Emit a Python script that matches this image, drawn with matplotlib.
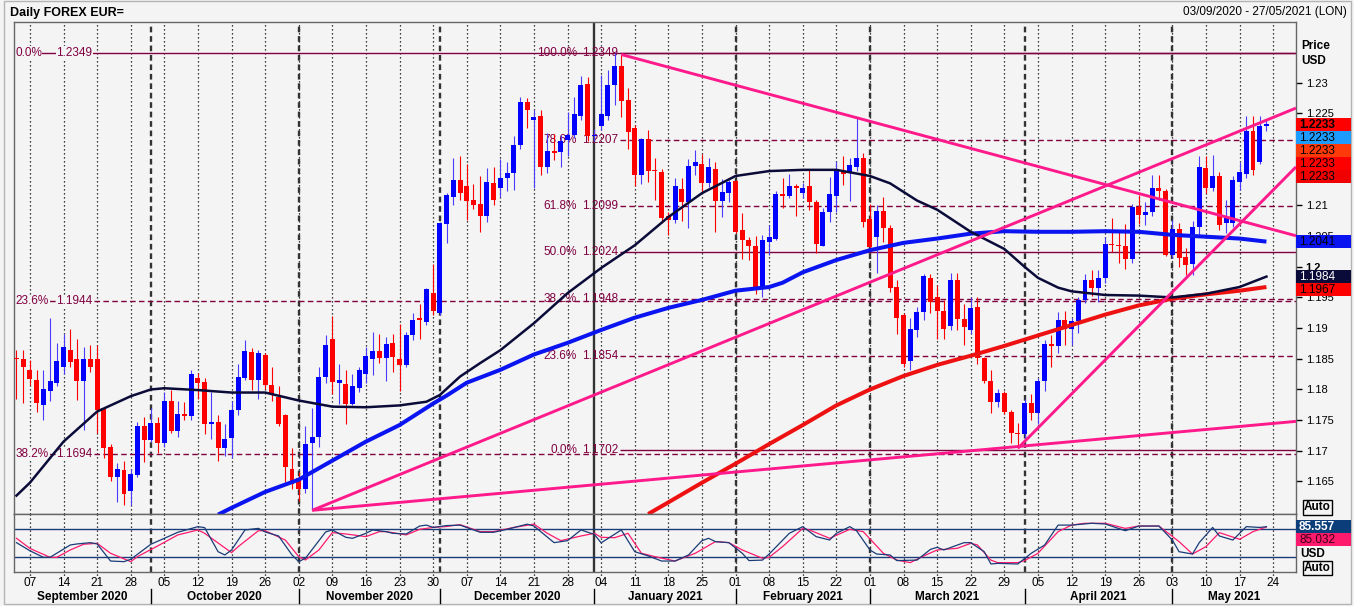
import numpy as np
import pandas as pd
import matplotlib
matplotlib.use("Agg")
import matplotlib.pyplot as plt
from matplotlib.patches import Rectangle
from matplotlib.lines import Line2D
from matplotlib.transforms import blended_transform_factory

plt.rcParams['font.family'] = ['Liberation Sans', 'DejaVu Sans']

# ---------------- data ----------------
dates = pd.bdate_range('2020-09-03', '2021-05-27')

opens = [
1.1852,1.1849,1.1831,1.1815,1.1775,1.1797,1.1811,1.1837,1.1864,1.1849,
1.1814,1.1849,1.1849,1.1769,1.1707,1.1657,1.1669,1.1634,1.1661,1.1741,
1.1718,1.1746,1.1713,1.1781,1.1732,1.1760,1.1757,1.1819,1.1812,1.1744,
1.1747,1.1705,1.1721,1.1766,1.1819,1.1861,1.1816,1.1856,1.1808,1.1788,
1.1758,1.1671,1.1656,1.1638,1.1713,1.1722,1.1821,1.1882,1.1811,1.1809,
1.1776,1.1803,1.1826,1.1850,1.1862,1.1851,1.1875,1.1850,1.1840,1.1888,
1.1917,1.1910,1.1958,1.1924,1.2069,1.2113,1.2142,1.2131,1.2109,1.2102,
1.2082,1.2136,1.2129,1.2144,1.2153,1.2199,1.2268,1.2240,1.2245,1.2162,
1.2189,1.2187,1.2207,1.2215,1.2246,1.2298,1.2213,1.2229,1.2246,1.2296,
1.2328,1.2272,1.2226,1.2150,1.2208,1.2158,1.2154,1.2083,1.2076,1.2127,
1.2105,1.2164,1.2167,1.2137,1.2160,1.2107,1.2121,1.2140,1.2060,1.2044,
1.2034,1.1963,1.2041,1.2046,1.2119,1.2116,1.2132,1.2120,1.2131,1.2105,
1.2034,1.2089,1.2116,1.2154,1.2155,1.2162,1.2177,1.2078,1.2048,1.2091,
1.2063,1.1967,1.1921,1.1847,1.1897,1.1927,1.1982,1.1951,1.1928,1.1903,
1.1978,1.1915,1.1897,1.1935,1.1851,1.1814,1.1780,1.1795,1.1764,1.1729,
1.1728,1.1778,1.1762,1.1813,1.1874,1.1871,1.1914,1.1899,1.1911,1.1946,
1.1978,1.1966,1.1982,1.2037,1.2035,1.2034,1.2012,1.2097,1.2084,1.2089,
1.2128,1.2124,1.2020,1.2061,1.2016,1.2005,1.2065,1.2161,1.2128,1.2148,
1.2072,1.2072,1.2139,1.2151,1.2221,1.2170,1.2229]

highs = [
1.1864,1.1864,1.1848,1.1831,1.1831,1.1916,1.1876,1.1891,1.1899,1.1882,
1.1869,1.1872,1.1872,1.1772,1.1711,1.1680,1.1684,1.1671,1.1747,1.1755,
1.1769,1.1755,1.1796,1.1799,1.1782,1.1779,1.1831,1.1827,1.1818,1.1796,
1.1758,1.1744,1.1782,1.1842,1.1880,1.1867,1.1864,1.1859,1.1837,1.1805,
1.1760,1.1704,1.1665,1.1741,1.1769,1.1837,1.1889,1.1919,1.1842,1.1832,
1.1826,1.1837,1.1869,1.1894,1.1890,1.1886,1.1890,1.1906,1.1894,1.1924,
1.1940,1.1965,1.2004,1.2073,1.2120,1.2177,1.2180,1.2167,1.2135,1.2148,
1.2161,1.2162,1.2176,1.2171,1.2213,1.2277,1.2275,1.2256,1.2256,1.2218,
1.2217,1.2215,1.2253,1.2276,1.2311,1.2310,1.2225,1.2313,1.2321,1.2349,
1.2346,1.2291,1.2231,1.2210,1.2223,1.2178,1.2160,1.2090,1.2144,1.2144,
1.2175,1.2191,1.2184,1.2177,1.2171,1.2143,1.2142,1.2142,1.2087,1.2048,
1.2050,1.2051,1.2068,1.2123,1.2145,1.2151,1.2135,1.2136,1.2157,1.2109,
1.2095,1.2147,1.2172,1.2180,1.2178,1.2243,1.2185,1.2102,1.2101,1.2114,
1.2068,1.1978,1.1925,1.1916,1.1935,1.1989,1.1989,1.1970,1.1946,1.1990,
1.1990,1.1940,1.1951,1.1950,1.1853,1.1831,1.1800,1.1797,1.1767,1.1745,
1.1785,1.1792,1.1818,1.1880,1.1888,1.1927,1.1928,1.1916,1.1950,1.1988,
1.1994,1.1994,1.2049,1.2080,1.2056,1.2069,1.2102,1.2117,1.2105,1.2150,
1.2150,1.2127,1.2077,1.2071,1.2031,1.2075,1.2180,1.2180,1.2182,1.2154,
1.2109,1.2148,1.2170,1.2245,1.2246,1.2245,1.2240]

lows = [
1.1785,1.1778,1.1808,1.1763,1.1751,1.1782,1.1806,1.1826,1.1837,1.1783,
1.1734,1.1829,1.1729,1.1689,1.1650,1.1617,1.1611,1.1611,1.1658,1.1682,
1.1714,1.1696,1.1706,1.1729,1.1722,1.1750,1.1750,1.1785,1.1728,1.1720,
1.1684,1.1692,1.1689,1.1758,1.1815,1.1799,1.1785,1.1801,1.1782,1.1740,
1.1649,1.1638,1.1619,1.1631,1.1603,1.1707,1.1810,1.1793,1.1777,1.1744,
1.1774,1.1796,1.1811,1.1823,1.1843,1.1814,1.1829,1.1797,1.1836,1.1880,
1.1883,1.1905,1.1921,1.1921,1.2038,1.2101,1.2109,1.2077,1.2094,1.2057,
1.2073,1.2101,1.2114,1.2124,1.2125,1.2192,1.2226,1.2129,1.2150,1.2153,
1.2174,1.2162,1.2180,1.2210,1.2240,1.2205,1.2205,1.2223,1.2240,1.2263,
1.2244,1.2192,1.2131,1.2135,1.2139,1.2109,1.2072,1.2052,1.2072,1.2075,
1.2064,1.2150,1.2121,1.2130,1.2056,1.2081,1.2105,1.2055,1.2012,1.2011,
1.1956,1.1950,1.2019,1.2044,1.2095,1.2112,1.2082,1.2112,1.2093,1.2022,
1.2034,1.2073,1.2090,1.2133,1.2108,1.2156,1.2065,1.2028,1.1990,1.2041,
1.1959,1.1891,1.1836,1.1832,1.1885,1.1913,1.1925,1.1883,1.1883,1.1897,
1.1897,1.1872,1.1890,1.1841,1.1810,1.1762,1.1772,1.1760,1.1712,1.1704,
1.1716,1.1750,1.1743,1.1797,1.1837,1.1860,1.1873,1.1873,1.1892,1.1941,
1.1953,1.1942,1.1974,1.2024,1.2006,1.1996,1.2006,1.2070,1.2068,1.2082,
1.2109,1.2017,1.2014,1.2000,1.1986,1.1986,1.2049,1.2120,1.2123,1.2060,
1.2055,1.2065,1.2125,1.2145,1.2150,1.2168,1.2222]

closes = [
1.1850,1.1837,1.1817,1.1778,1.1801,1.1814,1.1846,1.1869,1.1845,1.1814,
1.1849,1.1837,1.1767,1.1705,1.1657,1.1671,1.1629,1.1663,1.1741,1.1718,
1.1746,1.1713,1.1781,1.1733,1.1760,1.1757,1.1825,1.1811,1.1744,1.1747,
1.1705,1.1719,1.1766,1.1821,1.1862,1.1816,1.1859,1.1807,1.1793,1.1744,
1.1673,1.1646,1.1638,1.1711,1.1722,1.1821,1.1872,1.1812,1.1815,1.1776,
1.1805,1.1832,1.1854,1.1862,1.1851,1.1874,1.1853,1.1840,1.1888,1.1914,
1.1913,1.1963,1.1928,1.2071,1.2117,1.2142,1.2121,1.2108,1.2101,1.2082,
1.2138,1.2109,1.2144,1.2153,1.2198,1.2268,1.2256,1.2244,1.2162,1.2188,
1.2185,1.2205,1.2215,1.2249,1.2297,1.2213,1.2215,1.2249,1.2297,1.2328,
1.2271,1.2219,1.2150,1.2208,1.2156,1.2156,1.2079,1.2076,1.2131,1.2105,
1.2164,1.2171,1.2137,1.2162,1.2107,1.2122,1.2139,1.2056,1.2043,1.2034,
1.1963,1.2044,1.2048,1.2119,1.2116,1.2131,1.2129,1.2129,1.2105,1.2037,
1.2089,1.2118,1.2156,1.2151,1.2166,1.2178,1.2073,1.2032,1.2091,1.2063,
1.1966,1.1917,1.1842,1.1898,1.1926,1.1985,1.1943,1.1928,1.1899,1.1978,
1.1915,1.1902,1.1932,1.1851,1.1814,1.1780,1.1795,1.1764,1.1729,1.1728,
1.1778,1.1762,1.1813,1.1874,1.1871,1.1914,1.1899,1.1911,1.1946,1.1978,
1.1966,1.1982,1.2037,1.2035,1.2034,1.2012,1.2097,1.2084,1.2089,1.2128,
1.2124,1.2020,1.2061,1.2014,1.2003,1.2065,1.2163,1.2128,1.2148,1.2068,
1.2079,1.2142,1.2154,1.2221,1.2158,1.2229,1.2233]

ma50_days = [0,2,7,12,17,20,22,27,32,37,42,47,52,57,61,63,66,69,72,77,82,87,92,97,102,
             107,112,117,122,127,130,134,137,142,147,150,152,155,157,162,167,172,177,182,186]
ma50_vals = [1.1627,1.1648,1.1715,1.1764,1.1789,1.1800,1.1802,1.1799,1.1795,1.1795,1.1782,
             1.1772,1.1771,1.1774,1.1780,1.1791,1.1821,1.1843,1.1864,1.1908,1.1957,1.1998,
             1.2035,1.2081,1.2120,1.2148,1.2156,1.2158,1.2158,1.2148,1.2136,1.2108,1.2093,1.2057,
             1.2029,1.2000,1.1982,1.1966,1.1960,1.1954,1.1953,1.1950,1.1956,1.1967,1.1984]
ma100_days = [30,32,37,42,47,52,57,62,64,67,72,77,82,87,92,97,102,107,112,114,117,122,127,
              132,137,142,147,152,157,162,167,172,177,182,186]
ma100_vals = [1.1596,1.1607,1.1633,1.1653,1.1684,1.1715,1.1742,1.1777,1.1790,1.1811,1.1832,
              1.1857,1.1876,1.1897,1.1917,1.1933,1.1946,1.1961,1.1967,1.1974,1.1991,1.2011,
              1.2027,1.2039,1.2046,1.2054,1.2058,1.2057,1.2057,1.2058,1.2057,1.2052,1.2049,
              1.2046,1.2041]
ma200_days = [94,97,102,107,112,117,122,127,132,137,142,147,152,157,162,167,172,177,182,186]
ma200_vals = [1.1597,1.1616,1.1648,1.1679,1.1711,1.1742,1.1774,1.1800,1.1822,1.1840,1.1855,
              1.1871,1.1888,1.1905,1.1922,1.1937,1.1948,1.1955,1.1961,1.1967]

# stochastic oscillator
stoch_k_days = [0,2,4,5,8,9,11,12,14,16,17,20,22,24,27,28,30,31,32,34,36,37,39,41,42,43,46,47,
                49,50,52,53,55,56,58,60,61,62,64,66,69,71,73,76,77,80,82,84,86,87,90,92,94,96,
                98,100,102,103,104,106,108,109,111,112,115,117,119,121,122,124,125,127,128,130,
                131,134,136,137,138,141,142,144,145,146,149,151,153,155,157,160,162,165,167,170,
                172,173,175,176,178,179,181,183,185,186]
stoch_k_vals = [51.4,34,20,20,46.4,48.6,51.4,48.6,12,10.7,15.7,48,60.7,73.6,85.7,83.6,32,25,35.7,
                78.6,82,74.3,65.7,25,10.7,18,74.3,78.6,62.9,60.7,71.4,78.6,75,71.4,70,87,89,84,
                88,89,73.6,73.6,80,91,87,51.4,55.7,78.6,69,51,78.6,32,23,12,12,25,55.7,60.7,53.6,
                51.4,28.6,13,14,27,71.4,85.7,64.3,57,71.4,85.7,77,35.7,27,25,13,14,37,41.4,35.7,
                51.4,51.4,32,5.7,7,5.7,28.6,46.4,89,89,92.9,91.4,77,87,87,57,32,27,51.4,84,65.7,
                57,85.7,84,85.557]
stoch_d_days = [0,2,5,6,8,10,12,14,17,18,21,24,27,28,32,33,36,37,40,42,43,45,47,49,52,54,55,58,
                60,62,64,66,69,71,74,77,79,81,84,86,87,89,91,93,95,98,101,104,106,108,111,112,
                114,117,118,121,124,126,129,131,133,135,137,140,142,143,145,146,149,150,152,155,
                157,159,162,165,167,170,173,175,177,179,182,184,186]
stoch_d_vals = [60.7,39,20,20,35.7,48,50,28.6,10.7,21.4,44.3,67.9,78.6,71.4,30,42.9,77,77,57,21.4,
                14.3,35.7,72.9,70,64.3,75,75,68,80,84,86,90,75,75,84,91,71.4,55.7,65.7,71.4,62.9,
                62,71.4,28.6,21.4,12,28.6,53.6,51.4,35.7,18,20,42.9,82,78.6,60.7,80,75,28.6,14,
                8.6,22.9,35.7,39.3,50,46.4,14,8.6,8.6,12.9,28.6,75,89,92.9,92.9,82,87,87,53.6,27,
                42.9,72.9,58.6,75,85.032]

# Fibonacci retracements
fib_left_pct = ['0.0%', '23.6%', '38.2%']
fib_left_vals = [1.2349, 1.1944, 1.1694]
fib_right_pct = ['100.0%', '78.6%', '61.8%', '50.0%', '38.2%', '23.6%', '0.0%']
fib_right_vals = [1.2349, 1.2207, 1.2099, 1.2024, 1.1948, 1.1854, 1.1702]

# trend lines: (day0, price0, day1, price1), extended to the right edge
trend_lines = [(44, 1.1603, 149, 1.1707),
               (44, 1.1603, 186, 1.2239),
               (90, 1.2346, 125, 1.2243),
               (149, 1.1704, 186, 1.2114)]

# ---------------- layout ----------------
W, H, DPI = 1354, 606, 100
BG = '#f4f4f4'
L, R = 14, 1296
TOP, MID, BOT = 22, 514, 572
XMIN, XMAX = -0.37, 190.4
YMIN, YMAX = 1.1597, 1.2399
SMIN, SMAX = -11.5, 112.8

def fx(px):
    return px / W

def fy(py):
    return 1 - py / H

def day_px(d):
    return L + (d - XMIN) / (XMAX - XMIN) * (R - L)

def price_py(p):
    return TOP + (YMAX - p) / (YMAX - YMIN) * (MID - TOP)

def stoch_py(v):
    return MID + (SMAX - v) / (SMAX - SMIN) * (BOT - MID)

fig = plt.figure(figsize=(W / DPI, H / DPI), dpi=DPI)
fig.patch.set_facecolor(BG)

ax = fig.add_axes([fx(L), fy(MID), (R - L) / W, (MID - TOP) / H])
ax2 = fig.add_axes([fx(L), fy(BOT), (R - L) / W, (BOT - MID) / H])
for a in (ax, ax2):
    a.set_facecolor(BG)
    a.set_xlim(XMIN, XMAX)
    a.set_xticks([])
    for s in a.spines.values():
        s.set_color('#666666')
        s.set_linewidth(1.0)
ax.set_ylim(YMIN, YMAX)
ax2.set_ylim(SMIN, SMAX)
ax2.set_yticks([])

# right price axis (labels under the value boxes are hidden there anyway)
ax.yaxis.tick_right()
yt = np.round(np.arange(1.165, 1.2301, 0.005), 3)
hidden = {1.215, 1.22}
ax.set_yticks(yt)
ax.set_yticklabels(['' if v in hidden else ('%.3f' % v).rstrip('0').rstrip('.') for v in yt])
ax.tick_params(axis='y', direction='out', length=4, width=1, labelsize=8, pad=3, colors='black')
for t in ax.get_yticklabels():
    if t.get_text() == '1.2':
        t.set_fontweight('bold')

# vertical grid: weekly dotted, monthly dashed, year solid
idx_all = np.arange(len(dates))
mondays = [i for i in idx_all if dates[i].weekday() == 0]
month_starts = [i for i in idx_all[1:] if dates[i].month != dates[i - 1].month]
bt2 = blended_transform_factory(ax2.transData, fig.transFigure)
for i in mondays:
    ax.axvline(i, color='black', lw=0.9, ls=(0, (1, 2.2)), zorder=1)
    ax2.plot([i, i], [fy(MID), fy(578)], transform=bt2, color='black', lw=0.9,
             ls=(0, (1, 2.2)), zorder=1, clip_on=False)
for i in month_starts:
    if dates[i].month == 1:
        ax.axvline(i, color='#333333', lw=1.7, zorder=1.2)
        ax2.axvline(i, color='#333333', lw=1.7, zorder=1.2)
    else:
        ax.axvline(i, color='#333333', lw=1.7, ls=(0, (2.4, 1.6)), zorder=1.2)
        ax2.axvline(i, color='#333333', lw=1.7, ls=(0, (2.4, 1.6)), zorder=1.2)

# Fibonacci levels
FIB = '#800040'
left_styles = ['-', (0, (4, 2.4)), (0, (4, 2.4))]
bta = blended_transform_factory(ax.transAxes, ax.transData)
for pct, v, st in zip(fib_left_pct, fib_left_vals, left_styles):
    ax.axhline(v, color=FIB, lw=1.0, ls=st, zorder=2)
    ax.text(0.001, v, pct, transform=bta, color=FIB, fontsize=8.5, va='center', ha='left',
            zorder=2.2, bbox=dict(facecolor=BG, edgecolor='none', pad=0.2))
    ax.text(0.033, v, '%.4f' % v, transform=bta, color=FIB, fontsize=8.5, va='center', ha='left',
            zorder=2.2, bbox=dict(facecolor=BG, edgecolor='none', pad=0.2))
right_styles = ['-', 'd', 'd', '-', 'd', 'd', '-']
FIB_START = 89.8
for pct, v, st in zip(fib_right_pct, fib_right_vals, right_styles):
    ls = '-' if st == '-' else (0, (4, 2.4))
    ax.hlines(v, FIB_START, XMAX, color=FIB, lw=1.0, ls=ls, zorder=2)
    ax.text(FIB_START - 0.3, v, '%.4f' % v, color=FIB, fontsize=8.5, va='center', ha='right', zorder=2.2)
    ax.text(FIB_START - 6.4, v, pct, color=FIB, fontsize=8.5, va='center', ha='right', zorder=2.2)

# candles
n = len(closes)
d = np.arange(n)
o = np.array(opens[:n]); h = np.array(highs[:n]); l = np.array(lows[:n]); c = np.array(closes[:n])
up = c >= o
body_lo = np.minimum(o, c)
body_hi = np.maximum(o, c)
h = np.maximum(h, body_hi)
l = np.minimum(l, body_lo)
body_h = np.maximum(body_hi - body_lo, 0.00016)
ax.vlines(d, l, h, colors=np.where(up, '#4a3cff', '#ff0000'), linewidth=0.8, zorder=3)
ax.bar(d, body_h, bottom=body_lo, width=0.74, color=np.where(up, '#0000ff', '#ff0000'),
       linewidth=0, zorder=3.5)

# moving averages
ax.plot(ma200_days, ma200_vals, color='#ee1111', lw=2.9, zorder=4, solid_capstyle='butt',
        solid_joinstyle='round')
ax.plot(ma100_days, ma100_vals, color='#0a14f0', lw=2.9, zorder=4.1, solid_capstyle='butt',
        solid_joinstyle='round')
ax.plot(ma50_days, ma50_vals, color='#0b0b3a', lw=1.8, zorder=4.2, solid_joinstyle='round')

# trend lines
for d0, p0, d1, p1 in trend_lines:
    s = (p1 - p0) / (d1 - d0)
    ax.plot([d0, XMAX], [p0, p0 + s * (XMAX - d0)], color='#ff1a8c', lw=2.1, zorder=5,
            solid_capstyle='butt')

# stochastic panel
for lev in (80, 20):
    ax2.axhline(lev, color='#1a3c78', lw=1.0, zorder=2)
ax2.plot(stoch_d_days, stoch_d_vals, color='#ff1a6e', lw=0.9, zorder=3)
ax2.plot(stoch_k_days, stoch_k_vals, color='#1a3c78', lw=0.9, zorder=3.1)

# ---------------- right-side value boxes ----------------
def box(ycen, txt, fc, tc, weight='normal', hgt=13):
    fig.add_artist(Rectangle((fx(R), fy(ycen + hgt / 2)), (1351 - R) / W, hgt / H,
                             transform=fig.transFigure, facecolor=fc, edgecolor='none', zorder=10))
    fig.text(fx(1299), fy(ycen), txt, color=tc, fontsize=8.5, fontweight=weight,
             va='center', ha='left', zorder=11)

last = '%.4f' % closes[-1]
y0 = price_py(closes[-1]) + 1
last_colors = [('#ff0000', 'black', 'bold'), ('#1e9bff', 'black', 'normal'),
               ('#ff3a0a', 'black', 'normal'), ('#ff0000', 'black', 'normal'),
               ('#f00000', 'black', 'normal')]
for k, (fc, tc, wt) in enumerate(last_colors):
    box(y0 + 13 * k, last, fc, tc, wt)

ma_boxes = [(ma100_vals[-1], '#0a14f0', 'black'), (ma50_vals[-1], '#0b0b3a', 'white'),
            (ma200_vals[-1], '#ff0000', 'black')]
prev = -100
for v, fc, tc in ma_boxes:
    yc = max(price_py(v), prev + 13)
    box(yc, '%.4f' % v, fc, tc)
    prev = yc

yk = stoch_py(stoch_k_vals[-1])
box(yk, '%.3f' % stoch_k_vals[-1], '#0a3d7a', 'white', 'bold')
box(max(stoch_py(stoch_d_vals[-1]), yk + 13), '%.3f' % stoch_d_vals[-1], '#ff1a6e', '#3a0010')

fig.text(fx(1301), fy(46), 'Price', fontsize=8.5, fontweight='bold', va='center', ha='left')
fig.text(fx(1301), fy(61), 'USD', fontsize=8.5, fontweight='bold', va='center', ha='left')
fig.text(fx(1300), fy(554), 'USD', fontsize=8.5, fontweight='bold', va='center', ha='left')
for ya in (507.5, 568):
    fig.text(fx(1304), fy(ya), 'Auto', fontsize=8.5, fontweight='bold', va='center', ha='left',
             bbox=dict(facecolor=BG, edgecolor='black', pad=0.8, linewidth=1.0))

# ---------------- titles ----------------
fig.text(fx(10), fy(13), 'Daily FOREX EUR=', fontsize=9, fontweight='bold', va='center', ha='left')
fig.text(fx(1347), fy(12), '03/09/2020 - 27/05/2021 (LON)', fontsize=8.5, va='center', ha='right')

# ---------------- date axis ----------------
for i in mondays:
    fig.text(fx(day_px(i)), fy(583), '%02d' % dates[i].day, fontsize=8.5, va='center', ha='center')
bounds = [L] + [day_px(i) for i in month_starts] + [R]
month_first = [0] + month_starts
for k, i in enumerate(month_first):
    cx = (bounds[k] + bounds[k + 1]) / 2
    fig.text(fx(cx), fy(597), dates[i].strftime('%B %Y'), fontsize=8.5, fontweight='bold',
             va='center', ha='center')
for i in month_starts:
    xp = fx(day_px(i))
    fig.add_artist(Line2D([xp, xp], [fy(589), fy(603)], transform=fig.transFigure,
                          color='black', lw=1.0))

# outer frame
fig.add_artist(Rectangle((fx(4), fy(604)), (1351 - 4) / W, 603 / H, transform=fig.transFigure,
                         facecolor='none', edgecolor='#b4b4b4', lw=1.0))

fig.savefig('out.png', dpi=DPI, facecolor=BG)
